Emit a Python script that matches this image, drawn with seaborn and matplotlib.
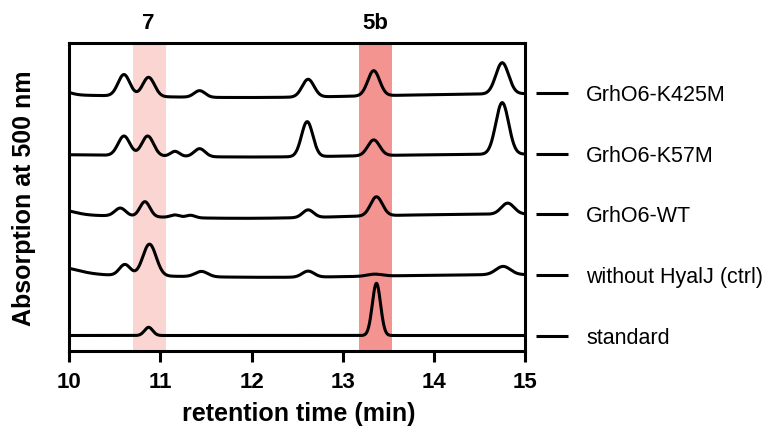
import numpy as np
import pandas as pd
import matplotlib
matplotlib.use("Agg")
import matplotlib.pyplot as plt
import seaborn as sns

# ---- data ----
samples = ["GrhO6-K425M", "GrhO6-K57M", "GrhO6-WT", "without HyalJ (ctrl)", "standard"]
baselines = [257.4, 196.7, 136.7, 76.2, 15.2]   # trace offsets (right-hand ticks)

# peak tables: retention time (min), height, width (sigma, min)
k425m_rt = [9.90, 10.60, 10.87, 11.43, 12.62, 13.34, 14.75, 11.90]
k425m_h = [4.0, 21.5, 19.2, 6.6, 17.7, 25.1, 31.1, -4.2]
k425m_w = [0.10, 0.065, 0.065, 0.06, 0.065, 0.065, 0.07, 1.40]

k57m_rt = [10.60, 10.86, 11.16, 11.43, 12.61, 13.34, 14.75, 12.00]
k57m_h = [19.5, 19.9, 5.0, 8.0, 35.0, 15.7, 51.6, -3.0]
k57m_w = [0.065, 0.065, 0.05, 0.06, 0.062, 0.065, 0.07, 1.20]

wt_rt = [9.90, 10.56, 10.83, 11.16, 11.33, 12.62, 13.37, 14.81, 11.90]
wt_h = [5.0, 8.0, 15.0, 2.5, 2.5, 7.6, 19.0, 11.0, -4.3]
wt_w = [0.15, 0.06, 0.055, 0.05, 0.05, 0.06, 0.065, 0.07, 1.10]

ctrl_rt = [9.80, 10.61, 10.88, 11.45, 12.62, 13.35, 14.76, 12.20]
ctrl_h = [9.0, 11.0, 31.7, 5.3, 6.0, 2.0, 8.3, -2.8]
ctrl_w = [0.25, 0.06, 0.073, 0.07, 0.065, 0.08, 0.08, 1.10]

std_rt = [10.87, 13.37]
std_h = [8.2, 52.2]
std_w = [0.045, 0.045]

peak_tables = [
    (k425m_rt, k425m_h, k425m_w),
    (k57m_rt, k57m_h, k57m_w),
    (wt_rt, wt_h, wt_w),
    (ctrl_rt, ctrl_h, ctrl_w),
    (std_rt, std_h, std_w),
]

band_labels = ["7", "5b"]
band_ranges = [(10.70, 11.06), (13.18, 13.54)]
band_colors = ["#FBD5D1", "#F39491"]
band_label_x = [10.87, 13.355]

x_ticks = [10, 11, 12, 13, 14, 15]

# ---- build long-form table ----
t = np.linspace(10, 15, 1501)
frames = []
for name, base, (rt, h, w) in zip(samples, baselines, peak_tables):
    sig = np.full_like(t, base)
    for r, hh, ww in zip(rt, h, w):
        sig = sig + hh * np.exp(-((t - r) ** 2) / (2 * ww ** 2))
    frames.append(pd.DataFrame({"time": t, "signal": sig, "sample": name}))
df = pd.concat(frames, ignore_index=True)

# ---- plotting ----
sns.set_theme(style="ticks")
plt.rcParams["font.family"] = ["Liberation Sans", "DejaVu Sans"]
plt.rcParams["text.color"] = "black"
plt.rcParams["axes.labelcolor"] = "black"
plt.rcParams["xtick.color"] = "black"
plt.rcParams["ytick.color"] = "black"

fig = plt.figure(figsize=(7.63, 4.30), dpi=100)
ax = fig.add_axes([69.3 / 763, 1 - 350.7 / 430, (525 - 69.3) / 763, (350.7 - 42.5) / 430])

for (a, b), c in zip(band_ranges, band_colors):
    ax.axvspan(a, b, color=c, lw=0, zorder=0)

sns.lineplot(data=df, x="time", y="signal", hue="sample", palette=["black"] * 5,
             legend=False, estimator=None, sort=False, lw=2.2, ax=ax, zorder=3)

ax.set_xlim(10, 15)
ax.set_ylim(0, 308.2)

# spines
for s in ["left", "top", "bottom"]:
    ax.spines[s].set_linewidth(2.2)
    ax.spines[s].set_color("black")
ax.spines["right"].set_position(("outward", 7.7))
ax.spines["right"].set_visible(False)
ax.plot([1, 1], [0, 1], transform=ax.transAxes, color="black", lw=2.2,
        clip_on=False, solid_capstyle="projecting", zorder=5)

# x axis
ax.set_xticks(x_ticks)
ax.set_xticklabels([str(v) for v in x_ticks])
ax.tick_params(axis="x", direction="out", length=8, width=2.2, pad=7,
               colors="black", labelsize=16)
for lab in ax.get_xticklabels():
    lab.set_fontweight("bold")

# right-hand sample ticks
ax.yaxis.tick_right()
ax.set_yticks(baselines)
ax.set_yticklabels(samples)
ax.tick_params(axis="y", which="major", direction="out", length=22.7, width=2.2,
               pad=13.5, colors="black", left=False, right=True, labelsize=15.5)
ax.tick_params(axis="y", which="minor", left=False, right=False)

ax.set_xlabel("retention time (min)", fontsize=18, fontweight="bold", color="black")
ax.xaxis.set_label_coords(0.504, -0.205)
ax.xaxis.label.set_verticalalignment("center")
ax.set_ylabel("Absorption at 500 nm", fontsize=18, fontweight="bold", color="black")
ax.yaxis.set_label_coords(-0.0994, 0.4945)
ax.yaxis.label.set_verticalalignment("center")

for lab, xx in zip(band_labels, band_label_x):
    ax.text(xx, (350.7 - 24) / 308.2, lab, transform=ax.get_xaxis_transform(),
            ha="center", va="center", fontsize=16, fontweight="bold", color="black")

fig.savefig("out.png", dpi=100)
